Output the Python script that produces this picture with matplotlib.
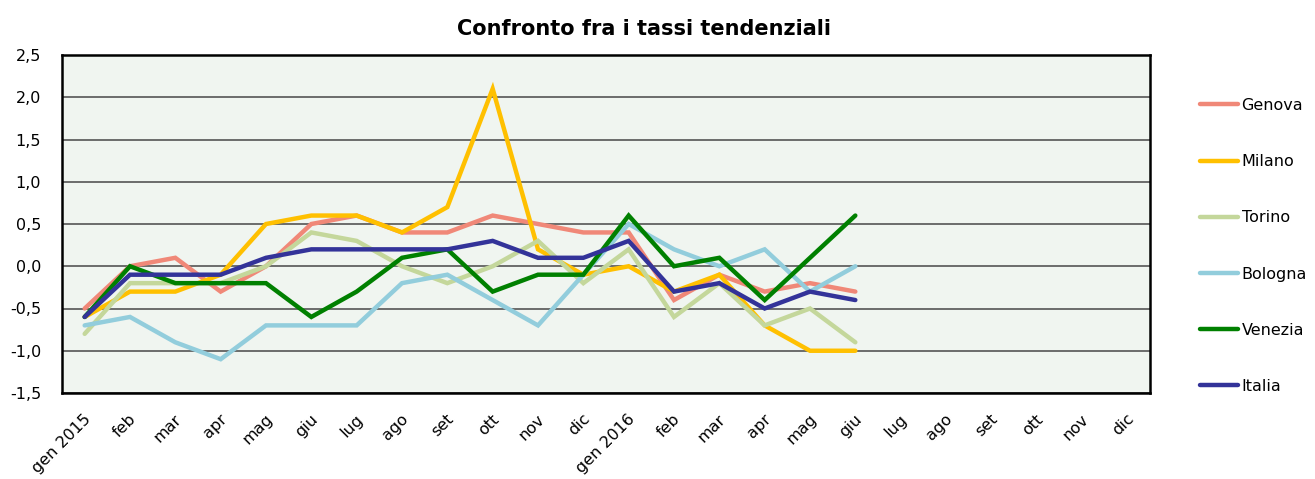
import matplotlib

matplotlib.use("Agg")
import matplotlib.pyplot as plt  # noqa: E402
from matplotlib.transforms import ScaledTranslation  # noqa: E402

# --- data -------------------------------------------------------------------
months = ["gen 2015", "feb", "mar", "apr", "mag", "giu", "lug", "ago", "set",
          "ott", "nov", "dic", "gen 2016", "feb", "mar", "apr", "mag", "giu",
          "lug", "ago", "set", "ott", "nov", "dic"]

genova = [-0.5, 0.0, 0.1, -0.3, 0.0, 0.5, 0.6, 0.4, 0.4,
          0.6, 0.5, 0.4, 0.4, -0.4, -0.1, -0.3, -0.2, -0.3]
milano = [-0.6, -0.3, -0.3, -0.1, 0.5, 0.6, 0.6, 0.4, 0.7,
          2.1, 0.2, -0.1, 0.0, -0.3, -0.1, -0.7, -1.0, -1.0]
torino = [-0.8, -0.2, -0.2, -0.2, 0.0, 0.4, 0.3, 0.0, -0.2,
          0.0, 0.3, -0.2, 0.2, -0.6, -0.2, -0.7, -0.5, -0.9]
bologna = [-0.7, -0.6, -0.9, -1.1, -0.7, -0.7, -0.7, -0.2, -0.1,
           -0.4, -0.7, -0.1, 0.5, 0.2, 0.0, 0.2, -0.3, 0.0]
venezia = [-0.6, 0.0, -0.2, -0.2, -0.2, -0.6, -0.3, 0.1, 0.2,
           -0.3, -0.1, -0.1, 0.6, 0.0, 0.1, -0.4, 0.1, 0.6]
italia = [-0.6, -0.1, -0.1, -0.1, 0.1, 0.2, 0.2, 0.2, 0.2,
          0.3, 0.1, 0.1, 0.3, -0.3, -0.2, -0.5, -0.3, -0.4]

series = [("Genova", genova, "#F08878"),
          ("Milano", milano, "#FFC000"),
          ("Torino", torino, "#C4D79B"),
          ("Bologna", bologna, "#92CDDC"),
          ("Venezia", venezia, "#008000"),
          ("Italia", italia, "#333399")]

yticks = [-1.5, -1.0, -0.5, 0.0, 0.5, 1.0, 1.5, 2.0, 2.5]

# --- figure -----------------------------------------------------------------
plt.rcParams["font.family"] = ["DejaVu Sans"]
FS = 11.5

fig = plt.figure(figsize=(13.15, 4.79), dpi=100)
ax = fig.add_axes([62 / 1315, 1 - 393 / 479, (1150 - 62) / 1315, (393 - 55) / 479])
ax.set_facecolor("#F0F5F0")

for name, vals, color in series:
    ax.plot(range(len(vals)), vals, color=color, lw=3.2, label=name,
            solid_capstyle="round", solid_joinstyle="miter")

ax.set_xlim(-0.5, len(months) - 0.5)
ax.set_ylim(-1.5, 2.5)
ax.set_yticks(yticks)
ax.set_yticklabels([f"{v:.1f}".replace(".", ",") for v in yticks], fontsize=FS)
ax.yaxis.grid(True, color="#555555", lw=1.2)
ax.set_axisbelow(True)
ax.set_xticks(range(len(months)))
ax.set_xticklabels(months, rotation=45, ha="right", va="center",
                   rotation_mode="anchor", fontsize=FS)
ax.tick_params(axis="y", length=0, pad=15)
ax.tick_params(axis="x", length=0, pad=17)
for lbl in ax.get_xticklabels():
    lbl.set_transform(lbl.get_transform() + ScaledTranslation(0.04, 0, fig.dpi_scale_trans))
for sp in ax.spines.values():
    sp.set_linewidth(1.8)
    sp.set_color("black")

fig.text(644 / 1315, 1 - 29 / 479, "Confronto fra i tassi tendenziali",
         ha="center", va="center", fontsize=15, fontweight="bold")

leg = ax.legend(loc="upper left", bbox_to_anchor=(1200 / 1315, 1 - 98 / 479),
                bbox_transform=fig.transFigure, frameon=False, fontsize=FS,
                handlelength=2.4, handletextpad=0.2, labelspacing=2.58,
                borderaxespad=0, borderpad=0)

fig.savefig("out.png", dpi=100, facecolor="white")
